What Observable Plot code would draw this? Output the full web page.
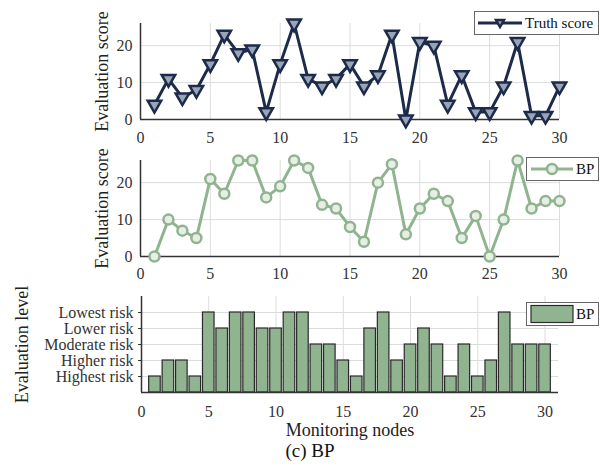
<!DOCTYPE html>
<html>
<head>
<meta charset="utf-8">
<script src="https://cdn.jsdelivr.net/npm/d3@7"></script>
<script src="https://cdn.jsdelivr.net/npm/@observablehq/plot@0.6"></script>
<style>
  html, body { margin: 0; padding: 0; background: #fff; }
  #wrap { position: relative; width: 600px; height: 468px; font-family: "Liberation Serif", "Times New Roman", serif; overflow: hidden; }
  #wrap svg { display: block; overflow: visible; }
  .legend { position: absolute; background: #fff; border: 1px solid #666; box-sizing: border-box; font-size: 15px; color: #111; display: flex; align-items: center; white-space: nowrap; }
  .legend svg { display: inline-block; }
  #caption { position: absolute; left: 0; width: 620px; top: 441px; line-height: 1; text-align: center; font-size: 19px; color: #111; }
</style>
</head>
<body>
<div id="wrap"></div>
<script>
// ---- data ----
const nodes = d3.range(1, 31);
const truthScore = [4, 11, 6, 8, 15, 23, 18, 19, 2, 15, 26, 11, 9, 11, 15, 9, 12, 23, 0, 21, 20, 4, 12, 2, 2, 9, 21, 1, 1, 9];
const bpScore    = [0, 10, 7, 5, 21, 17, 26, 26, 16, 19, 26, 24, 14, 13, 8, 4, 20, 25, 6, 13, 17, 15, 5, 11, 0, 10, 26, 13, 15, 15];
const bpLevel    = [1, 2, 2, 1, 5, 4, 5, 5, 4, 4, 5, 5, 3, 3, 2, 1, 4, 5, 2, 3, 4, 3, 1, 3, 1, 2, 5, 3, 3, 3];
const levelLabels = ["Highest risk", "Higher risk", "Moderate risk", "Lower risk", "Lowest risk"];
const xTicks = [0, 5, 10, 15, 20, 25, 30];
const scoreTicks = [0, 10, 20];

const NAVY = "#1d2b4b";
const GREEN = "#90b48f";
const FONT = "'Liberation Serif', 'Times New Roman', serif";

const truthData = nodes.map((n, i) => ({node: n, value: truthScore[i]}));
const bpData = nodes.map((n, i) => ({node: n, value: bpScore[i]}));
const levelData = nodes.map((n, i) => ({node: n, level: bpLevel[i]}));

const wrap = document.getElementById("wrap");

function scorePanel(data, opts) {
  return Plot.plot({
    width: 600, height: opts.height,
    marginLeft: 140, marginRight: 41, marginTop: opts.marginTop, marginBottom: opts.marginBottom,
    style: {fontFamily: FONT, fontSize: "16px", color: "#333", background: "#fff", overflow: "visible"},
    x: {domain: [0, 30]},
    y: {domain: [0, 26]},
    marks: [
      Plot.gridX(xTicks.slice(1), {stroke: "#dcdcdc", strokeOpacity: 1}),
      Plot.gridY(scoreTicks.slice(1), {stroke: "#dcdcdc", strokeOpacity: 1}),
      Plot.axisX(xTicks, {tickSize: 0, tickPadding: opts.xPad, label: null, fontSize: 16}),
      Plot.axisY(scoreTicks, {tickSize: 0, tickPadding: 8, label: "Evaluation score", labelAnchor: "center", labelArrow: "none", labelOffset: 45, fontSize: 16}),
      Plot.ruleY([0], {stroke: "#333", strokeWidth: 1.5}),
      Plot.ruleX([0], {stroke: "#333", strokeWidth: 1.5}),
      Plot.line(data, {x: "node", y: "value", stroke: opts.color, strokeWidth: 3}),
      opts.marker === "tri"
        ? Plot.dot(data, {x: "node", y: "value", symbol: "triangle", rotate: 180, r: 5, stroke: opts.color, strokeWidth: 2.5, fill: "#9aa4b8"})
        : Plot.dot(data, {x: "node", y: "value", symbol: "circle", r: 5, stroke: opts.color, strokeWidth: 2.5, fill: "#e6eee6"})
    ]
  });
}

const p1 = scorePanel(truthData, {height: 145, marginTop: 23, marginBottom: 26, xPad: 12, color: NAVY, marker: "tri"});
const p2 = scorePanel(bpData, {height: 140, marginTop: 15, marginBottom: 29, xPad: 11, color: GREEN, marker: "circ"});

const p3 = Plot.plot({
  width: 600, height: 160,
  marginLeft: 141, marginRight: 42, marginTop: 11, marginBottom: 53,
  style: {fontFamily: FONT, fontSize: "16px", color: "#333", background: "#fff", overflow: "visible"},
  x: {domain: [0, 31]},
  y: {domain: [0, 6]},
  marks: [
    Plot.gridX(xTicks.slice(1), {stroke: "#dcdcdc", strokeOpacity: 1}),
    Plot.gridY([1, 2, 3, 4, 5], {stroke: "#dcdcdc", strokeOpacity: 1}),
    Plot.rectY(levelData, {x1: d => d.node - 0.43, x2: d => d.node + 0.43, y: "level", fill: GREEN, stroke: "#2a2a2a", strokeWidth: 1.2}),
    Plot.axisX(xTicks, {tickSize: 0, tickPadding: 13, label: "Monitoring nodes", labelAnchor: "center", labelArrow: "none", labelOffset: 43, fontSize: 16}),
    Plot.axisY([1, 2, 3, 4, 5], {tickSize: 3, tickPadding: 5, tickFormat: d => levelLabels[d - 1], label: "Evaluation level", labelAnchor: "center", labelArrow: "none", labelOffset: 126, fontSize: 16}),
    Plot.ruleY([0], {stroke: "#333", strokeWidth: 1.5}),
    Plot.ruleX([0], {stroke: "#333", strokeWidth: 1.5})
  ]
});

[p1, p2, p3].forEach(p => wrap.appendChild(p));

// style axis titles larger
wrap.querySelectorAll("svg g[aria-label='y-axis label'] text, svg g[aria-label='x-axis label'] text").forEach(t => {
  t.setAttribute("font-size", "18");
  t.style.fill = "#222";
});

// legends
function legend(left, top, width, height, swatch, label) {
  const d = document.createElement("div");
  d.className = "legend";
  d.style.left = left + "px"; d.style.top = top + "px";
  d.style.width = width + "px"; d.style.height = height + "px";
  d.innerHTML = swatch + `<span style="margin-left:2px">${label}</span>`;
  wrap.appendChild(d);
}
legend(474, 11, 125, 24,
  `<svg width="46" height="20" style="margin-left:2px"><line x1="1" y1="10" x2="45" y2="10" stroke="${NAVY}" stroke-width="3"/><path d="M19,7 L27,7 L23,14 Z" fill="#9aa4b8" stroke="${NAVY}" stroke-width="2.5"/></svg>`,
  "Truth score");
legend(526, 157, 73, 24,
  `<svg width="44" height="20" style="margin-left:3px"><line x1="1" y1="10" x2="43" y2="10" stroke="${GREEN}" stroke-width="3"/><circle cx="22" cy="10" r="5" fill="#e6eee6" stroke="${GREEN}" stroke-width="2.5"/></svg>`,
  "BP");
legend(526, 302, 73, 24,
  `<svg width="44" height="20" style="margin-left:3px"><rect x="1" y="1.5" width="42" height="17" fill="${GREEN}" stroke="#2a2a2a" stroke-width="1.2"/></svg>`,
  "BP");

const cap = document.createElement("div");
cap.id = "caption";
cap.textContent = "(c) BP";
wrap.appendChild(cap);
</script>
</body>
</html>
